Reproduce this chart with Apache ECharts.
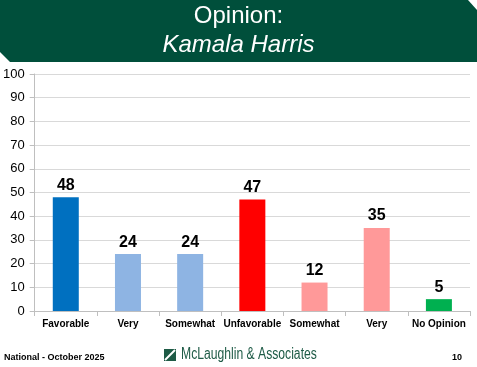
<!DOCTYPE html>
<html><head><meta charset="utf-8">
<script src="https://cdn.jsdelivr.net/npm/echarts@6/dist/echarts.min.js"></script>
<style>html,body{margin:0;padding:0;background:#fff}#c{width:477px;height:367px}</style>
</head><body><div id="c"></div>
<script>
const categories = ['Favorable','Very','Somewhat','Unfavorable','Somewhat','Very','No Opinion'];
const values = [48,24,24,47,12,35,5];
const barColors = ['#0070C0','#8EB4E3','#8EB4E3','#FF0000','#FF9999','#FF9999','#00B050'];
const yTicks = [0,10,20,30,40,50,60,70,80,90,100];
const titleLine1 = 'Opinion:';
const titleLine2 = 'Kamala Harris';
const footerLeft = 'National - October 2025';
const footerCenter = 'McLaughlin & Associates';
const footerRight = '10';

const chart = echarts.init(document.getElementById('c'));
const font = '"Liberation Sans", Calibri, sans-serif';
chart.setOption({
  animation:false,
  grid:{left:32,right:7,top:74,bottom:56},
  xAxis:{type:'category',data:categories,
    axisLine:{lineStyle:{color:'#BFBFBF'}},
    axisTick:{show:true,alignWithLabel:false,lineStyle:{color:'#BFBFBF'}},
    axisLabel:{color:'#000',fontWeight:'bold',fontSize:10,fontFamily:font,margin:8,interval:0}},
  yAxis:{type:'value',min:yTicks[0],max:yTicks[yTicks.length-1],interval:10,
    axisLine:{show:true,lineStyle:{color:'#BFBFBF'}},
    axisTick:{show:true,lineStyle:{color:'#BFBFBF'}},
    splitLine:{lineStyle:{color:'#D9D9D9'}},
    axisLabel:{color:'#000',fontSize:13,fontFamily:font,margin:10}},
  series:[{type:'bar',data:values.map((v,i)=>({value:v,itemStyle:{color:barColors[i]}})),
    barWidth:26,
    label:{show:true,position:'top',color:'#000',fontWeight:'bold',fontSize:16,fontFamily:font,distance:4}}],
  graphic:[
    {type:'polygon',shape:{points:[[0,0],[468,0],[477,10],[477,62],[10,62],[0,52]]},style:{fill:'#004F3B'}},
    {type:'text',left:'center',top:4,style:{text:titleLine1,fill:'#fff',font:'24px '+font}},
    {type:'text',left:'center',top:33,style:{text:titleLine2,fill:'#fff',font:'italic 24px '+font}},
    {type:'text',left:4,top:353,style:{text:footerLeft,fill:'#000',font:'bold 9px '+font}},
    {type:'text',left:452,top:353,style:{text:footerRight,fill:'#000',font:'bold 9px '+font}},
    {type:'rect',shape:{x:164,y:349,width:12,height:12},style:{fill:'#1E5B46'}},
    {type:'line',shape:{x1:165,y1:360,x2:175,y2:350},style:{stroke:'#fff',lineWidth:2}},
    {type:'text',x:181,y:347,scaleX:0.76,style:{text:footerCenter,fill:'#1E5B46',font:'16px '+font}}
  ]
});
</script></body></html>
